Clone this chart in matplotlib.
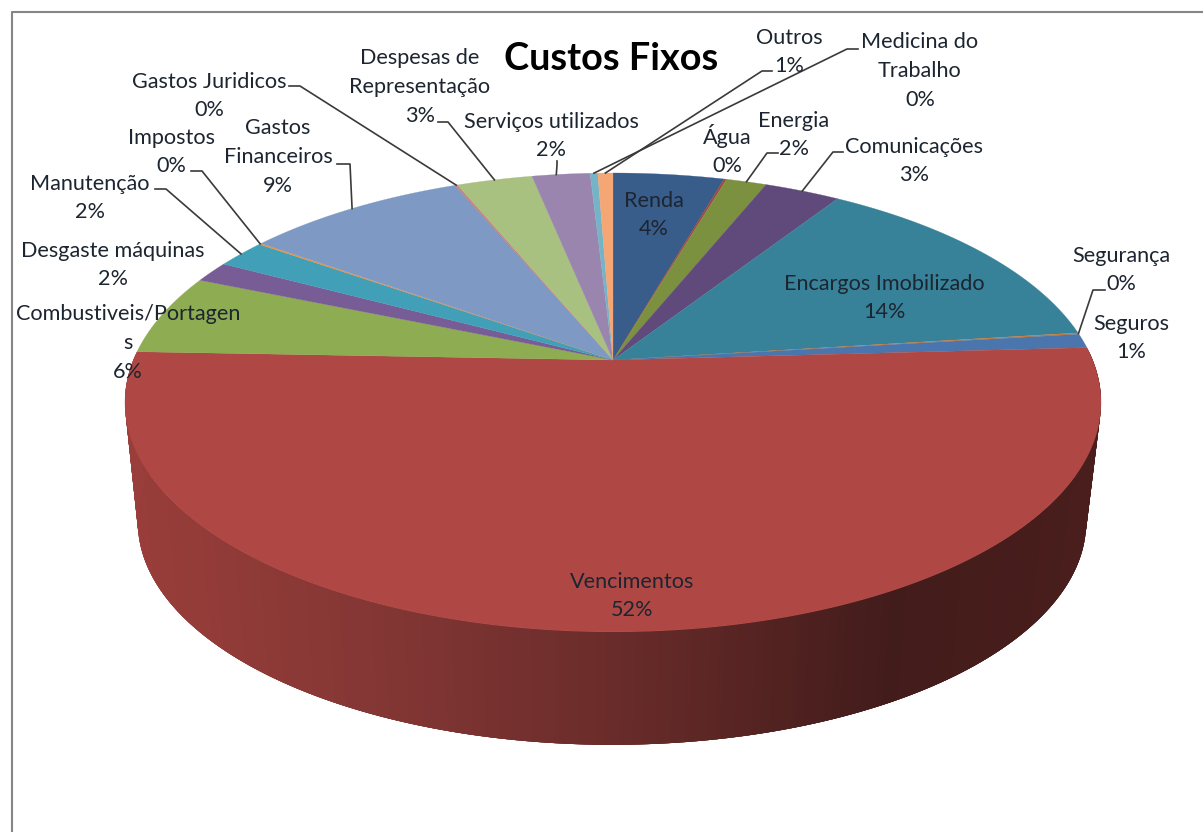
import numpy as np
import matplotlib
matplotlib.use("Agg")
import matplotlib.pyplot as plt
from matplotlib.colors import LinearSegmentedColormap

plt.rcParams['font.family'] = ['Lato', 'DejaVu Sans']

title = "Custos Fixos"
categories = ["Renda", "Água", "Energia", "Comunicações", "Encargos Imobilizado", "Segurança",
              "Seguros", "Vencimentos", "Combustiveis/Portagen\ns", "Desgaste máquinas",
              "Manutenção", "Impostos", "Gastos\nFinanceiros", "Gastos Juridicos",
              "Despesas de\nRepresentação", "Serviços utilizados", "Medicina do\nTrabalho", "Outros"]
values = [4.4, 0.1, 1.6, 3.0, 13.9, 0.1, 1.0, 51.5, 5.7, 1.5, 2.0, 0.1, 8.8, 0.1, 3.0, 2.3, 0.3, 0.6]
colors = ["#385D8A", "#A0473F", "#7B913F", "#604A7B", "#378299", "#C47A3B",
          "#4A76AD", "#AF4845", "#8EAC52", "#785C95", "#41A0B8", "#E59446",
          "#7E99C3", "#C97F7C", "#A8C080", "#9A85AF", "#75B3C7", "#F4A675"]

# label centres, in pixels
label_x = [654, 727, 794, 914, 884, 1121, 1131, 632, 128, 113, 90, 171, 278, 209, 420, 551, 920, 789]
label_y = [215, 150, 135, 161, 298, 270, 338, 596, 343, 265, 198, 152, 157, 96, 87, 136, 71, 52]

# leader lines: slice index -> start and knee, the last point sits on the rim of the slice
leaders = {2: [(778, 153), (767, 153)],
           3: [(843, 152), (833, 152)],
           5: [(1105, 290), (1093, 290)],
           10: [(155, 189), (166, 189)],
           11: [(191, 171), (202, 171)],
           12: [(337, 164), (350, 164)],
           13: [(289, 86), (300, 86)],
           14: [(438, 122), (448, 122)],
           15: [(557, 161), (557, 165)],
           16: [(858, 49), (847, 49)],
           17: [(772, 71), (762, 71)]}
# where along the slice the leader lands, if not in the middle
leader_pos = {15: 0.42}

# projection of the top and bottom discs
K = 0.185
TOP = (613, 360, 479.6, 221.6)
BOTTOM = (612, 481, 466, 215)


def project(theta, disc):
    cx, cy, a, b = disc
    u, v = np.sin(theta), np.cos(theta)
    w = 1 + K * v
    return cx + a * u / w, cy - b * v / w


fig = plt.figure(figsize=(12.03, 8.32), dpi=100)
ax = fig.add_axes([0, 0, 1, 1])
ax.set_xlim(0, 1203)
ax.set_ylim(832, 0)
ax.axis("off")

# chart frame
ax.plot([12, 12, 1203], [832, 12, 12], color="#868686", lw=1.5, zorder=1)

edges = np.cumsum([0] + values) / sum(values) * 2 * np.pi

# side wall, only the big slice faces the front
# the strips overlap so no seams show between them
wall_cmap = LinearSegmentedColormap.from_list(
    "wall", [(0, "#9A3E3A"), (0.28, "#823634"), (0.5, "#6A2C2A"), (0.78, "#421C1B"), (1, "#4A1E1C")])
wall_angles = np.linspace(edges[7], edges[8], 400)
for j in range(len(wall_angles) - 4):
    t0, t1 = wall_angles[j], wall_angles[j + 4]
    x0, y0 = project(t0, TOP)
    x1, y1 = project(t1, TOP)
    x2, y2 = project(t1, BOTTOM)
    x3, y3 = project(t0, BOTTOM)
    c = wall_cmap((x3 - 125) / (1100 - 125))
    ax.fill([x0, x1, x2, x3], [y0, y1, y2, y3], color=c, lw=0, zorder=2)

# top face
for i in range(len(values)):
    t = np.linspace(edges[i], edges[i + 1], 200)
    x, y = project(t, TOP)
    ax.fill(np.r_[TOP[0], x], np.r_[TOP[1], y], color=colors[i], lw=0.2, zorder=3)

for i, pts in leaders.items():
    f = leader_pos.get(i, 0.5)
    rim = project(edges[i] + f * (edges[i + 1] - edges[i]), TOP)
    xs = [p[0] for p in pts] + [rim[0]]
    ys = [p[1] for p in pts] + [rim[1]]
    ax.plot(xs, ys, color="#3a3a3a", lw=1.2, zorder=4)

for i, name in enumerate(categories):
    ax.text(label_x[i], label_y[i], f"{name}\n{round(values[i])}%", ha="center", va="center",
            fontsize=15.6, linespacing=1.55, color="#1c2530", zorder=5)

ax.text(611, 59, title, ha="center", va="center", fontsize=27.3, fontweight="bold", color="black", zorder=5)

fig.savefig("out.png", dpi=100, facecolor="white")
